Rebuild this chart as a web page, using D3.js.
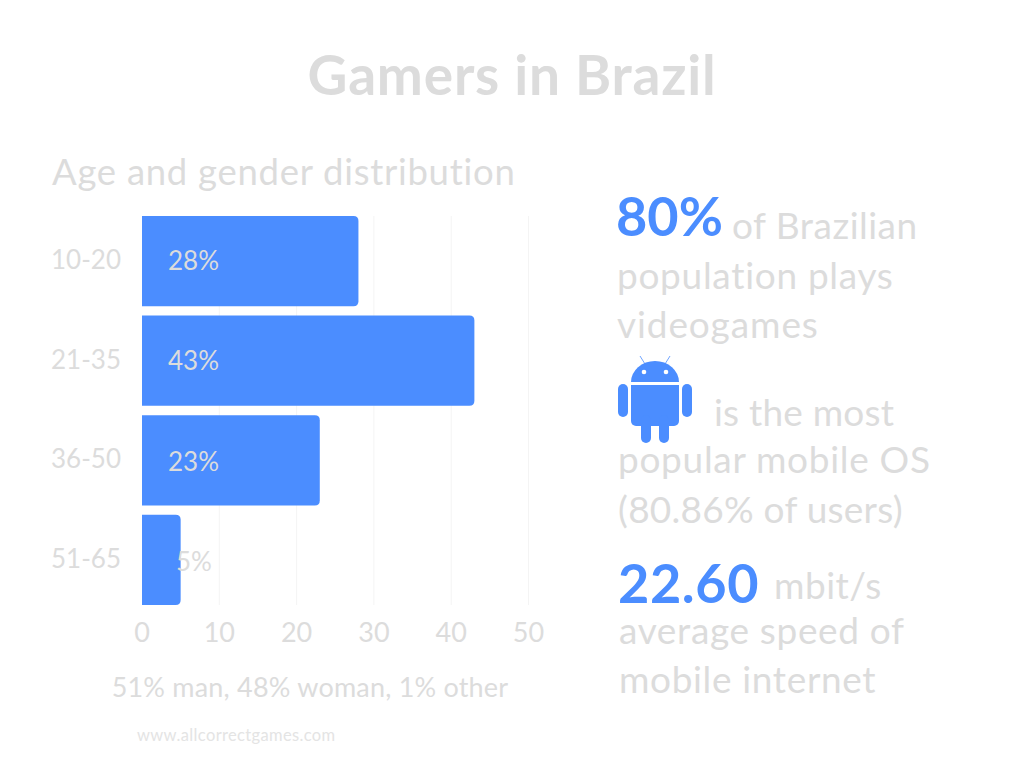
<!DOCTYPE html>
<html>
<head>
<meta charset="utf-8">
<script src="https://cdn.jsdelivr.net/npm/d3@7"></script>
<style>
body { margin: 0; background: #fff; }
text { font-family: Lato, sans-serif; fill: #dcdcdc; }
</style>
</head>
<body>
<div id="chart"></div>
<script>
var ageGroups = ['10-20', '21-35', '36-50', '51-65'];
var shares = [28, 43, 23, 5];
var xTicks = [0, 10, 20, 30, 40, 50];

var blue = '#4b8dff';
var grey = '#dcdcdc';

var svg = d3.select('#chart').append('svg').attr('width', 1024).attr('height', 768);

var xScale = d3.scaleLinear().domain([0, 50]).range([142, 528.5]);
var yScale = d3.scaleBand().domain(ageGroups).range([216, 605]).paddingInner(0.095);

// title stuff
function label(x, y, str, size, opts) {
	opts = opts || {};
	return svg.append('text')
		.attr('x', x)
		.attr('y', y)
		.attr('text-anchor', opts.anchor || 'start')
		.style('font-size', size + 'px')
		.style('font-weight', opts.weight || 400)
		.style('letter-spacing', (opts.spacing || 0) + 'px')
		.style('fill', opts.fill || grey)
		.text(str);
}

label(512, 95, 'Gamers in Brazil', 55, { anchor: 'middle', weight: 700, spacing: 0.8 });
label(52, 185, 'Age and gender distribution', 36.5, { spacing: 0.72 });

// gridlines
svg.selectAll('.grid')
	.data(xTicks.slice(1))
	.enter()
	.append('line')
	.attr('class', 'grid')
	.attr('x1', function(d) { return xScale(d); })
	.attr('x2', function(d) { return xScale(d); })
	.attr('y1', 216)
	.attr('y2', 605)
	.attr('stroke', '#f4f4f4')
	.attr('stroke-width', 1);

// bars, square on the left and rounded on the right
function barPath(d, i) {
	var x0 = xScale(0), x1 = xScale(d), y0 = yScale(ageGroups[i]), y1 = y0 + yScale.bandwidth(), r = 5;
	return 'M' + x0 + ',' + y0 + 'H' + (x1 - r) + 'Q' + x1 + ',' + y0 + ' ' + x1 + ',' + (y0 + r) +
		'V' + (y1 - r) + 'Q' + x1 + ',' + y1 + ' ' + (x1 - r) + ',' + y1 + 'H' + x0 + 'Z';
}

svg.selectAll('.bar')
	.data(shares)
	.enter()
	.append('path')
	.attr('class', 'bar')
	.attr('d', barPath)
	.attr('fill', blue);

// value labels, they drift down a bit from row to row in the original
svg.selectAll('.value')
	.data(shares)
	.enter()
	.append('text')
	.attr('class', 'value')
	.attr('x', function(d) { return d === 5 ? 176 : 168; })
	.attr('y', function(d, i) { return yScale(ageGroups[i]) + yScale.bandwidth() / 2 + 8.5 + i; })
	.style('font-size', '26px')
	.text(function(d) { return d + '%'; });

// axis labels
svg.selectAll('.age')
	.data(ageGroups)
	.enter()
	.append('text')
	.attr('class', 'age')
	.attr('x', 121)
	.attr('y', function(d) { return yScale(d) + yScale.bandwidth() / 2 + 8; })
	.attr('text-anchor', 'end')
	.style('font-size', '26px')
	.text(function(d) { return d; });

svg.selectAll('.tick-label')
	.data(xTicks)
	.enter()
	.append('text')
	.attr('class', 'tick-label')
	.attr('x', function(d) { return xScale(d); })
	.attr('y', 642)
	.attr('text-anchor', 'middle')
	.style('font-size', '27px')
	.text(function(d) { return d; });

label(310, 697, '51% man, 48% woman, 1% other', 27, { anchor: 'middle', spacing: 0.2 });
label(137, 741, 'www.allcorrectgames.com', 16.5, { spacing: 0.35 }).style('fill', '#e4e4e4');

// right column
var rightFont = 37;
label(616, 236, '80%', 54, { weight: 700, fill: blue });
label(732, 239, 'of Brazilian', rightFont, { spacing: 0.5 });
label(617, 289, 'population plays', rightFont, { spacing: 0.7 });
label(617, 338, 'videogames', rightFont, { spacing: 0.9 });

label(714, 426, 'is the most', rightFont, { spacing: 0.2 });
label(618, 473, 'popular mobile OS', rightFont, { spacing: 0.7 });
label(618, 523, '(80.86% of users)', rightFont, { spacing: 0.25 });

label(618, 603, '22.60', 54, { weight: 700, fill: blue, spacing: 0.6 });
label(774, 599, 'mbit/s', rightFont, { spacing: 0.5 });
label(619, 644, 'average speed of', rightFont, { spacing: 0.65 });
label(619, 693, 'mobile internet', rightFont, { spacing: 0.65 });

// android logo
var droid = svg.append('g').attr('fill', blue);
droid.append('path').attr('d', 'M631,382a24,21 0 0 1 48,0Z');
droid.append('path').attr('d', 'M631,385H679V421a5,5 0 0 1 -5,5H636a5,5 0 0 1 -5,-5Z');
droid.append('rect').attr('x', 618).attr('y', 384).attr('width', 10).attr('height', 33).attr('rx', 5);
droid.append('rect').attr('x', 682).attr('y', 384).attr('width', 10).attr('height', 33).attr('rx', 5);
droid.append('rect').attr('x', 641).attr('y', 415).attr('width', 10).attr('height', 28).attr('rx', 5);
droid.append('rect').attr('x', 659).attr('y', 415).attr('width', 10).attr('height', 28).attr('rx', 5);
droid.append('circle').attr('cx', 644).attr('cy', 372).attr('r', 2.3).attr('fill', '#fff');
droid.append('circle').attr('cx', 666).attr('cy', 372).attr('r', 2.3).attr('fill', '#fff');
droid.append('path').attr('d', 'M640,356L645,364M670,356L665,364').attr('stroke', blue).attr('stroke-width', 0.8);
</script>
</body>
</html>
